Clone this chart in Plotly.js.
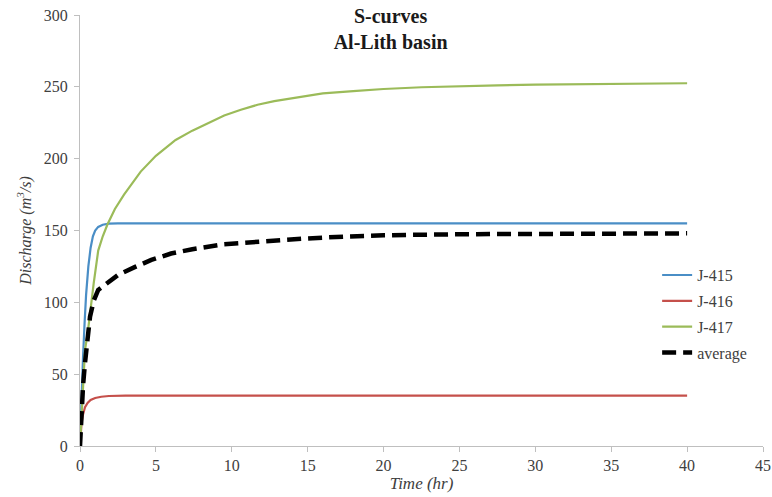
<!DOCTYPE html>
<html>
<head>
<meta charset="utf-8">
<script src="https://cdn.plot.ly/plotly-3.0.1.min.js"></script>
<style>html,body{margin:0;padding:0;background:#fff;}#chart{width:772px;height:497px;}</style>
</head>
<body>
<div id="chart"></div>
<script>
// Time (hr) and discharge (m3/s)
const t415 = [0, 0.05, 0.1, 0.2, 0.3, 0.4, 0.55, 0.7, 0.85, 1.0, 1.2, 1.5, 1.9, 2.5, 5, 10, 20, 30, 40];
const v415 = [0, 20, 38, 62, 85, 105, 125, 138, 146, 150, 152.5, 154, 154.8, 155, 155, 155, 155, 155, 155];

const t416 = [0, 0.05, 0.1, 0.2, 0.33, 0.5, 0.7, 1.0, 1.4, 1.9, 3, 10, 20, 30, 40];
const v416 = [0, 10, 16, 22, 27, 30, 32, 33.4, 34.3, 34.8, 35, 35, 35, 35, 35];

const t417 = [0, 0.1, 0.2, 0.33, 0.5, 0.7, 0.9, 1.2, 1.5, 1.8, 2.3, 2.9, 3.5, 4, 5, 6.3, 7.4, 8.5, 9.5, 10.6, 11.7, 12.8, 14.5, 16, 18, 20, 22.5, 25, 27.5, 30, 35, 40];
const v417 = [0, 20, 40, 67, 78, 97, 113, 136, 146, 154, 165, 175, 184, 191, 202, 213, 219.5, 225, 230, 234, 237.5, 240, 243, 245.4, 247, 248.5, 249.7, 250.5, 251, 251.5, 252, 252.5];

const tAvg = [0, 0.1, 0.2, 0.33, 0.44, 0.55, 0.66, 0.9, 1.2, 1.5, 1.86, 2.5, 3.6, 4.7, 6, 7.4, 9.5, 12, 15, 17.5, 20, 25, 30, 35, 40];
const vAvg = [0, 24, 42, 58, 67, 80, 90, 101, 108.6, 111, 114, 119, 124.5, 129.5, 134, 137, 140.5, 142.5, 144.5, 145.8, 146.7, 147.4, 147.8, 148, 148];

const names = ["J-415", "J-416", "J-417", "average"];
const xTicks = [0, 5, 10, 15, 20, 25, 30, 35, 40, 45];
const yTicks = [0, 50, 100, 150, 200, 250, 300];

const serif = "'Times New Roman', 'Liberation Serif', 'DejaVu Serif', serif";

const traces = [
  {x: t415, y: v415, name: names[0], mode: "lines", line: {color: "#4a8ec6", width: 2.2}, legendgroup: "a"},
  {x: t416, y: v416, name: names[1], mode: "lines", line: {color: "#c5504b", width: 2.2}, legendgroup: "b"},
  {x: t417, y: v417, name: names[2], mode: "lines", line: {color: "#9bbb59", width: 2.2}, legendgroup: "c"},
  {x: tAvg, y: vAvg, name: names[3], mode: "lines", line: {color: "#000000", width: 4.5, dash: "14px,7px"}, legendgroup: "d"}
];

const layout = {
  width: 772, height: 497,
  margin: {l: 80, r: 9, t: 15, b: 51},
  paper_bgcolor: "#ffffff", plot_bgcolor: "#ffffff",
  showlegend: true,
  font: {family: serif},
  title: {
    text: "<b>S-curves<br>Al-Lith basin</b>",
    font: {family: serif, size: 20, color: "#1a1a1a"},
    xref: "container", x: 0.506, xanchor: "center",
    yref: "container", y: 0.954, yanchor: "top"
  },
  xaxis: {
    range: [0, 45], tickvals: xTicks, ticktext: xTicks.map(String),
    showgrid: false, zeroline: false, showline: true, linecolor: "#bfbfbf", linewidth: 1,
    ticks: "outside", ticklen: 5, tickcolor: "#bfbfbf",
    tickfont: {family: serif, size: 16, color: "#404040"},
    title: {text: "<i>Time (hr)</i>", font: {family: serif, size: 17, color: "#404040"}, standoff: 2}
  },
  yaxis: {
    range: [0, 300], tickvals: yTicks, ticktext: yTicks.map(String),
    showgrid: false, zeroline: false, showline: true, linecolor: "#bfbfbf", linewidth: 1,
    ticks: "outside", ticklen: 5, tickcolor: "#bfbfbf", ticklabelstandoff: 3,
    tickfont: {family: serif, size: 16, color: "#404040"},
    title: {text: "<i>Discharge (m<sup>3</sup>/s)</i>", font: {family: serif, size: 16, color: "#404040"}, standoff: 8}
  },
  legend: {
    x: 0.845, xanchor: "left", y: 0.436, yanchor: "top",
    font: {family: serif, size: 16, color: "#404040"},
    bgcolor: "rgba(0,0,0,0)", traceorder: "grouped", tracegroupgap: 2,
    itemwidth: 30
  }
};

Plotly.newPlot("chart", traces, layout, {displayModeBar: false, staticPlot: true});
</script>
</body>
</html>
